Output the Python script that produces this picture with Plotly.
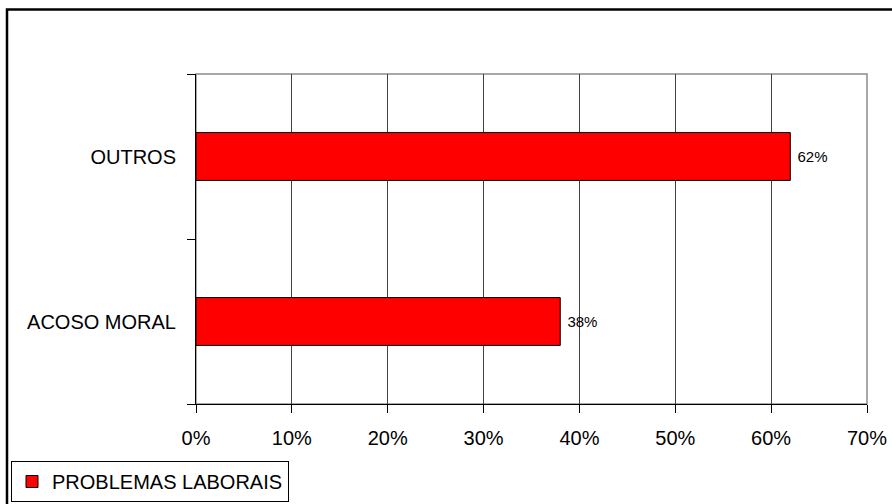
import plotly.graph_objects as go

categories = ["ACOSO MORAL", "OUTROS"]
values = [0.38, 0.62]
value_labels = ["38%", "62%"]
series_name = "PROBLEMAS LABORAIS"

FONT = "Liberation Sans, Arial, Helvetica"

fig = go.Figure()
fig.add_trace(go.Bar(
    y=categories, x=values, orientation="h", name=series_name,
    marker=dict(color="#ff0000", line=dict(color="black", width=1)),
    text=value_labels, texttemplate=" %{text}", textposition="outside",
    textfont=dict(size=15, color="black", family=FONT),
    cliponaxis=False, showlegend=True,
))

L, R, T, B = 196, 25, 74, 100
PW, PH = 892 - L - R, 504 - T - B

fig.update_layout(
    width=892, height=504,
    margin=dict(l=L, r=R, t=T, b=B, autoexpand=False),
    paper_bgcolor="white", plot_bgcolor="white",
    font=dict(family=FONT, size=20, color="black"),
    bargap=0.71,
    showlegend=True,
    legend=dict(
        x=(11 - L) / PW, y=((504 - B) - 461) / PH, xanchor="left", yanchor="top",
        orientation="h", bordercolor="black", borderwidth=1,
        font=dict(size=20), bgcolor="white",
        itemwidth=30, tracegroupgap=0,
    ),
    xaxis=dict(
        range=[0, 0.7], dtick=0.1, tickformat=".0%",
        showgrid=True, gridcolor="#404040", gridwidth=1,
        ticks="outside", ticklen=8, tickcolor="black",
        showline=True, linecolor="black", linewidth=1,
        zeroline=False, tickfont=dict(size=20),
        ticklabelstandoff=8, automargin=False,
    ),
    yaxis=dict(
        type="category", tickson="boundaries",
        ticks="outside", ticklen=8, tickcolor="black",
        showline=True, linecolor="black", linewidth=1,
        showgrid=False, tickfont=dict(size=20),
        ticklabelstandoff=15, automargin=False,
    ),
    shapes=[
        dict(type="rect", xref="paper", yref="paper", x0=0, x1=1, y0=0, y1=1,
             line=dict(color="#8c8c8c", width=1.5), layer="below"),
        dict(type="rect", xref="paper", yref="paper",
             x0=(7 - L) / PW, x1=1.2, y0=-0.5, y1=((504 - B) - 9.5) / PH,
             line=dict(color="black", width=2.5), fillcolor="rgba(0,0,0,0)", layer="above"),
    ],
)

fig.write_html(
    "out.html",
    config={"displayModeBar": False},
    post_script="document.body.style.margin='0px';document.body.style.overflow='hidden';",
)
